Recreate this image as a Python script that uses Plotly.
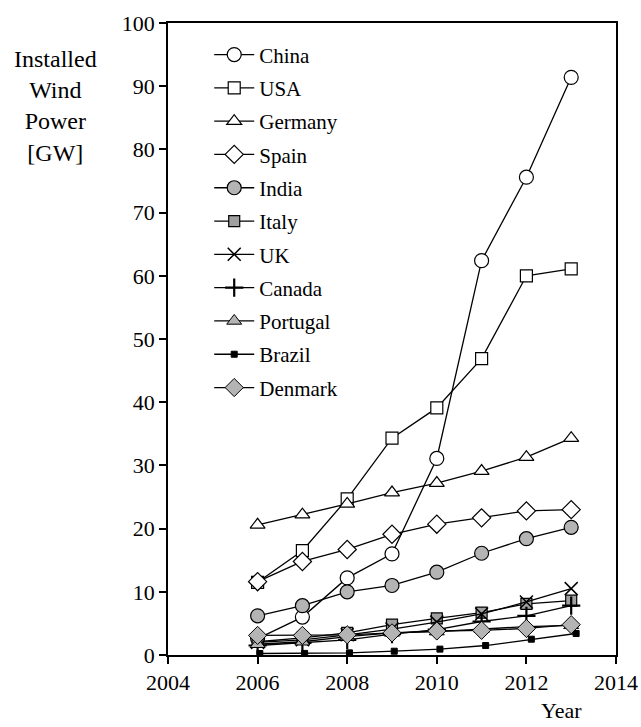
import plotly.graph_objects as go

years = [2006, 2007, 2008, 2009, 2010, 2011, 2012, 2013]
brazil_years = [2006.05, 2007.05, 2008.05, 2009.05, 2010.07, 2011.09, 2012.11, 2013.11]

china = [2.6, 6.0, 12.2, 16.0, 31.1, 62.4, 75.6, 91.4]
usa = [11.5, 16.5, 24.7, 34.3, 39.1, 46.9, 60.0, 61.1]
germany = [20.6, 22.2, 23.9, 25.7, 27.2, 29.1, 31.3, 34.3]
spain = [11.6, 14.8, 16.7, 19.1, 20.7, 21.7, 22.8, 23.0]
india = [6.2, 7.8, 10.0, 11.0, 13.1, 16.1, 18.4, 20.2]
italy = [2.1, 2.7, 3.5, 4.8, 5.8, 6.7, 8.1, 8.6]
uk = [2.0, 2.4, 3.2, 4.1, 5.2, 6.5, 8.4, 10.5]
canada = [1.5, 1.9, 2.4, 3.3, 4.0, 5.3, 6.2, 7.8]
portugal = [1.7, 2.1, 2.9, 3.5, 3.7, 4.1, 4.5, 4.7]
brazil = [0.24, 0.25, 0.34, 0.6, 0.93, 1.5, 2.5, 3.4]
denmark = [3.1, 3.1, 3.2, 3.5, 3.8, 3.9, 4.2, 4.8]

FONT = "Liberation Serif"
GRAY = "#b4b4b4"

series = [
    ("China", years, china, dict(symbol="circle", size=14, color="white", line=dict(color="black", width=1.2))),
    ("USA", years, usa, dict(symbol="square", size=12, color="white", line=dict(color="black", width=1.2))),
    ("Germany", years, germany, dict(symbol="triangle-up", size=13, color="white", line=dict(color="black", width=1.2))),
    ("Spain", years, spain, dict(symbol="diamond", size=14, color="white", line=dict(color="black", width=1.2))),
    ("India", years, india, dict(symbol="circle", size=14, color=GRAY, line=dict(color="black", width=1.2))),
    ("Italy", years, italy, dict(symbol="square", size=11, color="#a0a0a0", line=dict(color="black", width=1.2))),
    ("UK", years, uk, dict(symbol="x-thin", size=13, color="black", line=dict(color="black", width=1.5))),
    ("Canada", years, canada, dict(symbol="cross-thin", size=13, color="black", line=dict(color="black", width=2.2))),
    ("Portugal", years, portugal, dict(symbol="triangle-up", size=13, color=GRAY, line=dict(color="black", width=1))),
    ("Brazil", brazil_years, brazil, dict(symbol="square", size=6, color="black", line=dict(color="black", width=1))),
    ("Denmark", years, denmark, dict(symbol="diamond", size=14, color=GRAY, line=dict(color="black", width=1))),
]

fig = go.Figure()
for name, xs, ys, mk in series:
    fig.add_trace(go.Scatter(
        x=xs, y=ys, name=name, mode="lines+markers",
        line=dict(color="black", width=1.3),
        marker=mk, legendgroup=name, cliponaxis=False,
    ))

fig.update_layout(
    width=641, height=727,
    margin=dict(l=168, r=25, t=23, b=72, autoexpand=False),
    paper_bgcolor="white", plot_bgcolor="white",
    font=dict(family=FONT, size=22, color="black"),
    showlegend=True,
    legend=dict(
        x=0.092, y=0.982, xanchor="left", yanchor="top",
        bgcolor="rgba(0,0,0,0)", borderwidth=0,
        font=dict(family=FONT, size=21, color="black"),
        tracegroupgap=3, itemwidth=40,
    ),
)
fig.update_xaxes(
    range=[2004, 2014], tickvals=[2004, 2006, 2008, 2010, 2012, 2014],
    showgrid=False, zeroline=False, showline=True, linecolor="black", linewidth=1.5,
    mirror=True, ticks="outside", ticklen=7, tickcolor="black", tickwidth=1.5,
    tickfont=dict(family=FONT, size=22),
)
fig.update_yaxes(
    range=[0, 100], tickvals=list(range(0, 101, 10)),
    showgrid=False, zeroline=False, showline=True, linecolor="black", linewidth=1.5,
    mirror=True, ticks="outside", ticklen=7, tickcolor="black", tickwidth=1.5,
    tickfont=dict(family=FONT, size=22),
)
fig.add_annotation(
    text="Installed<br>Wind<br>Power<br>[GW]", xref="paper", yref="paper",
    x=-0.252, y=(727 - 72 - 44) / (727 - 72 - 23), xanchor="center", yanchor="top",
    showarrow=False, align="center", font=dict(family=FONT, size=24),
)
fig.add_annotation(
    text="Year", xref="paper", yref="paper",
    x=(561 - 168) / 448, y=-(710 - 655) / 632, xanchor="center", yanchor="middle",
    showarrow=False, font=dict(family=FONT, size=22),
)
fig.write_html("out.html", config={"displayModeBar": False},
               post_script="document.body.style.margin='0';")
